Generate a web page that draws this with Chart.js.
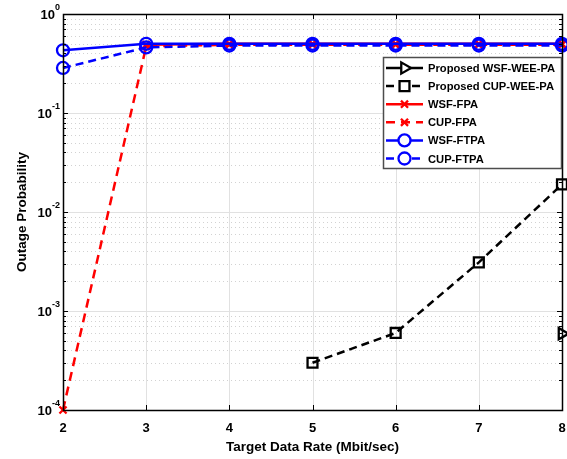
<!DOCTYPE html>
<html>
<head>
<meta charset="utf-8">
<script src="https://cdn.jsdelivr.net/npm/chart.js@4.4.1/dist/chart.umd.min.js"></script>
<style>
  html, body { margin: 0; padding: 0; background: #fff; }
  #wrap { width: 567px; height: 459px; }
</style>
</head>
<body>
<div id="wrap"><canvas id="chart"></canvas></div>
<script>
// data (null = zero, not shown on log axis)
const rates = [2, 3, 4, 5, 6, 7, 8];
const wsfWee = [null, null, null, null, null, null, 5.9e-4];
const cupWee = [null, null, null, 3.0e-4, 6.0e-4, 3.1e-3, 1.9e-2];
const wsfFpa = [null, 0.49, 0.5, 0.5, 0.5, 0.5, 0.5];
const cupFpa = [1e-4, 0.47, 0.49, 0.49, 0.49, 0.49, 0.49];
const wsfFtpa = [0.43, 0.5, 0.5, 0.5, 0.5, 0.5, 0.5];
const cupFtpa = [0.285, 0.46, 0.48, 0.48, 0.48, 0.48, 0.48];
const seriesNames = ["Proposed WSF-WEE-PA", "Proposed CUP-WEE-PA", "WSF-FPA", "CUP-FPA", "WSF-FTPA", "CUP-FTPA"];
const yExponents = [-4, -3, -2, -1, 0];

const FONT = "'Liberation Sans', Arial, sans-serif";
const pts = arr => rates.map((r, i) => ({ x: r, y: arr[i] }));

function ds(label, data, color, dash, style, radius, rot, order) {
  return {
    label: label,
    data: pts(data),
    borderColor: color,
    backgroundColor: "rgba(255,255,255,0)",
    borderWidth: 2.5,
    borderDash: dash,
    pointStyle: style,
    pointRadius: radius,
    pointRotation: rot,
    pointBorderWidth: 2.3,
    pointBorderColor: color,
    pointBackgroundColor: "rgba(255,255,255,0)",
    pointHoverRadius: radius,
    clip: false,
    order: order,
    tension: 0,
  };
}

const datasets = [
  ds(seriesNames[0], wsfWee, "#000000", [], "triangle", 6.5, 90, 6),
  ds(seriesNames[1], cupWee, "#000000", [8, 5], "rect", 7, 0, 5),
  ds(seriesNames[2], wsfFpa, "#ff0000", [], "crossRot", 5, 0, 4),
  ds(seriesNames[3], cupFpa, "#ff0000", [9, 6], "crossRot", 5, 0, 3),
  ds(seriesNames[4], wsfFtpa, "#0000ff", [], "circle", 6, 0, 1),
  ds(seriesNames[5], cupFtpa, "#0000ff", [8, 5], "circle", 6, 0, 2),
];

// MATLAB-like frame: grid, inward ticks, box, superscript y labels, legend
const frame = {
  id: "frame",
  beforeDatasetsDraw(chart) {
    const { ctx, chartArea: a, scales: { x, y } } = chart;
    ctx.save();
    ctx.lineWidth = 1;
    // minor y grid (dotted)
    ctx.strokeStyle = "#d2d2d2";
    ctx.setLineDash([1, 3]);
    for (let e = -4; e < 0; e++) {
      for (let m = 2; m <= 9; m++) {
        const py = Math.round(y.getPixelForValue(m * Math.pow(10, e))) + 0.5;
        ctx.beginPath(); ctx.moveTo(a.left, py); ctx.lineTo(a.right, py); ctx.stroke();
      }
    }
    // major grid (solid)
    ctx.setLineDash([]);
    ctx.strokeStyle = "#e1e1e1";
    yExponents.forEach(e => {
      const py = Math.round(y.getPixelForValue(Math.pow(10, e))) + 0.5;
      ctx.beginPath(); ctx.moveTo(a.left, py); ctx.lineTo(a.right, py); ctx.stroke();
    });
    rates.forEach(r => {
      const px = Math.round(x.getPixelForValue(r)) + 0.5;
      ctx.beginPath(); ctx.moveTo(px, a.top); ctx.lineTo(px, a.bottom); ctx.stroke();
    });
    ctx.restore();
  },
  afterDraw(chart) {
    const { ctx, chartArea: a, scales: { x, y } } = chart;
    ctx.save();
    ctx.strokeStyle = "#000";
    ctx.lineWidth = 1;
    ctx.setLineDash([]);
    // ticks
    ctx.beginPath();
    rates.forEach(r => {
      const px = Math.round(x.getPixelForValue(r)) + 0.5;
      ctx.moveTo(px, a.bottom); ctx.lineTo(px, a.bottom - 5);
      ctx.moveTo(px, a.top); ctx.lineTo(px, a.top + 5);
    });
    for (let e = -4; e <= 0; e++) {
      for (let m = 1; m <= 9; m++) {
        const v = m * Math.pow(10, e);
        if (v > 1) break;
        const py = Math.round(y.getPixelForValue(v)) + 0.5;
        const len = m === 1 ? 5 : 3;
        ctx.moveTo(a.left, py); ctx.lineTo(a.left + len, py);
        ctx.moveTo(a.right, py); ctx.lineTo(a.right - len, py);
      }
    }
    ctx.stroke();
    // box
    ctx.lineWidth = 1.5;
    ctx.strokeRect(Math.round(a.left) + 0.5, Math.round(a.top) + 0.5, Math.round(a.right - a.left), Math.round(a.bottom - a.top));

    // y tick labels 10^n
    ctx.fillStyle = "#000";
    ctx.textBaseline = "middle";
    yExponents.forEach(e => {
      const py = y.getPixelForValue(Math.pow(10, e));
      const exp = e === 0 ? "0" : "-" + (-e);
      ctx.font = "bold 9px " + FONT;
      const ew = ctx.measureText(exp).width;
      ctx.textAlign = "left";
      const right = a.left - 3;
      ctx.fillText(exp, right - ew, py - 6);
      ctx.font = "bold 13px " + FONT;
      ctx.textAlign = "right";
      ctx.fillText("10", right - ew, py + 1);
    });

    // legend
    const lx = 383, ly = 57, lw = 178, lh = 111;
    ctx.fillStyle = "#fff";
    ctx.fillRect(lx, ly, lw, lh);
    ctx.strokeStyle = "#4d4d4d";
    ctx.lineWidth = 1.5;
    ctx.strokeRect(lx + 0.5, ly + 0.5, lw, lh);
    chart.data.datasets.forEach((d, i) => {
      const cy = 68 + i * 18.1;
      ctx.save();
      ctx.strokeStyle = d.borderColor;
      ctx.lineWidth = d.borderWidth;
      ctx.setLineDash(d.borderDash);
      ctx.beginPath(); ctx.moveTo(386, cy); ctx.lineTo(423, cy); ctx.stroke();
      ctx.setLineDash([]);
      ctx.fillStyle = "#fff";
      ctx.strokeStyle = d.borderColor;
      ctx.lineWidth = d.pointBorderWidth;
      Chart.helpers.drawPoint(ctx, {
        pointStyle: d.pointStyle,
        rotation: d.pointRotation,
        radius: d.pointRadius,
        borderWidth: d.pointBorderWidth,
      }, 404.5, cy);
      ctx.restore();
      ctx.fillStyle = "#000";
      ctx.font = "bold 11.2px " + FONT;
      ctx.textAlign = "left";
      ctx.textBaseline = "middle";
      ctx.fillText(d.label, 428, cy + 1);
    });
    ctx.restore();
  },
};

new Chart(document.getElementById("chart"), {
  type: "line",
  data: { datasets: datasets },
  plugins: [frame],
  options: {
    responsive: true,
    maintainAspectRatio: false,
    animation: false,
    layout: { autoPadding: false, padding: { left: 0, right: 5, top: 14, bottom: 0 } },
    plugins: {
      legend: { display: false },
      tooltip: { enabled: false },
    },
    scales: {
      x: {
        type: "linear",
        min: 2,
        max: 8,
        afterFit: s => { s.height = 49; s.paddingLeft = 0; s.paddingRight = 0; },
        grid: { display: false, drawTicks: false },
        border: { display: false },
        ticks: {
          stepSize: 1,
          color: "#000",
          padding: 11,
          font: { family: FONT, size: 13, weight: "bold" },
        },
        title: {
          display: true,
          text: "Target Data Rate (Mbit/sec)",
          color: "#000",
          padding: { top: 1, bottom: 4 },
          font: { family: FONT, size: 13.5, weight: "bold" },
        },
      },
      y: {
        type: "logarithmic",
        min: 1e-4,
        max: 1,
        afterFit: s => { s.width = 63; s.paddingTop = 0; s.paddingBottom = 0; },
        grid: { display: false, drawTicks: false },
        border: { display: false },
        ticks: { display: false },
        title: {
          display: true,
          text: "Outage Probability",
          color: "#000",
          padding: { top: 14, bottom: 0 },
          font: { family: FONT, size: 13.5, weight: "bold" },
        },
      },
    },
  },
});
</script>
</body>
</html>
